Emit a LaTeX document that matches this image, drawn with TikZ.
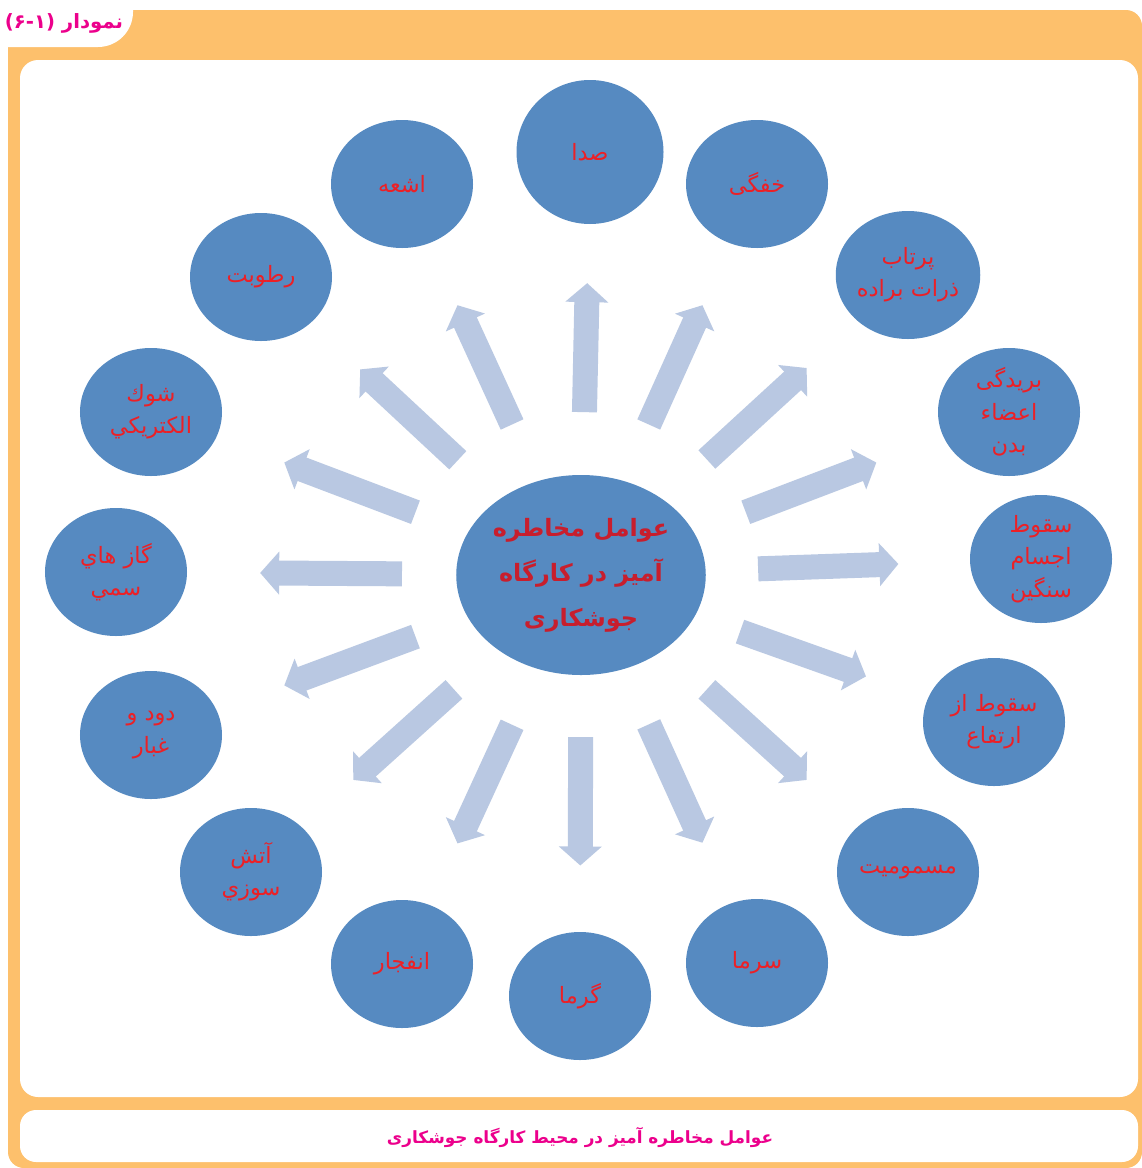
\documentclass[tikz,border=0pt]{standalone}
\usepackage{fontspec}
\usepackage{tikz}
\usetikzlibrary{arrows.meta,calc,shapes.geometric}
\newfontfamily\arabicfont[Script=Arabic]{DejaVu Sans}
\TeXXeTstate=1
\newcommand\fa[1]{\beginR#1\endR}
\definecolor{orangebg}{RGB}{253,192,108}
\definecolor{circleblue}{RGB}{86,138,193}
\definecolor{arrowblue}{RGB}{185,200,226}
\definecolor{textred}{RGB}{236,32,38}
\definecolor{hubred}{RGB}{200,30,45}
\definecolor{titlepink}{RGB}{236,0,140}

\begin{document}
\begin{tikzpicture}[x=0.25mm,y=-0.25mm,
  leaf/.style={ellipse,fill=circleblue,minimum width=35.5mm,minimum height=32mm,inner sep=0pt,
    text=textred,align=center,font=\arabicfont\fontsize{16}{23}\selectfont},
  flow/.style={arrowblue,line width=6.25mm,-{Triangle[width=10.5mm,length=4.75mm]}}]
\useasboundingbox (0,0) rectangle (1142,1168);
% frame
\fill[orangebg,rounded corners=4mm] (8,10) rectangle (1142,1168);
\fill[white,rounded corners=8.75mm] (-40,-40) rectangle (133,47);
\fill[white,rounded corners=4.5mm] (20,60) rectangle (1138,1097);
\fill[white,rounded corners=4mm] (20,1110) rectangle (1138,1162);
\node[text=titlepink,font=\arabicfont\bfseries\fontsize{14}{16}\selectfont] (title) at (64,23) {(۶-۱) \fa{نمودار}};
\node[text=titlepink,font=\arabicfont\bfseries\fontsize{12}{14}\selectfont] (caption) at (580,1137) {\fa{عوامل مخاطره آمیز در محیط کارگاه جوشکاری}};
% hub
\node[ellipse,fill=circleblue,minimum width=59.5mm,minimum height=50mm,inner sep=0pt,text=hubred,align=center,
  font=\arabicfont\bfseries\fontsize{17}{32}\selectfont] (hub) at (581,575)
  {\fa{عوامل مخاطره}\\\fa{آمیز در کارگاه}\\\fa{جوشکاری}};
% factors
\node[leaf,minimum width=36.75mm,minimum height=36mm] (sada) at (590,152) {\fa{صدا}};
\node[leaf] (khafegi) at (757,184) {\fa{خفگی}};
\node[leaf] (partab) at (908,275) {\fa{پرتاب}\\\fa{ذرات براده}};
\node[leaf] (boridegi) at (1009,412) {\fa{بریدگی}\\\fa{اعضاء}\\\fa{بدن}};
\node[leaf] (ajsam) at (1041,559) {\fa{سقوط}\\\fa{اجسام}\\\fa{سنگین}};
\node[leaf] (ertefa) at (994,722) {\fa{سقوط از}\\\fa{ارتفاع}};
\node[leaf] (masmumiyat) at (908,872) {\fa{مسمومیت}};
\node[leaf] (sarma) at (757,963) {\fa{سرما}};
\node[leaf] (garma) at (580,996) {\fa{گرما}};
\node[leaf] (enfejar) at (402,964) {\fa{انفجار}};
\node[leaf] (atash) at (251,872) {\fa{آتش}\\\fa{سوزي}};
\node[leaf] (dud) at (151,735) {\fa{دود و}\\\fa{غبار}};
\node[leaf] (gaz) at (116,572) {\fa{گاز هاي}\\\fa{سمي}};
\node[leaf] (shok) at (151,412) {\fa{شوك}\\\fa{الكتريكي}};
\node[leaf] (rotubat) at (261,277) {\fa{رطوبت}};
\node[leaf] (ashae) at (402,184) {\fa{اشعه}};
\foreach \n in {sada,khafegi,partab,boridegi,ajsam,ertefa,masmumiyat,sarma,garma,enfejar,atash,dud,gaz,shok,rotubat,ashae}
  \draw[flow] ($(hub)!0.385!(\n)$) -- ($(hub)!0.69!(\n)$);
\end{tikzpicture}
\end{document}
